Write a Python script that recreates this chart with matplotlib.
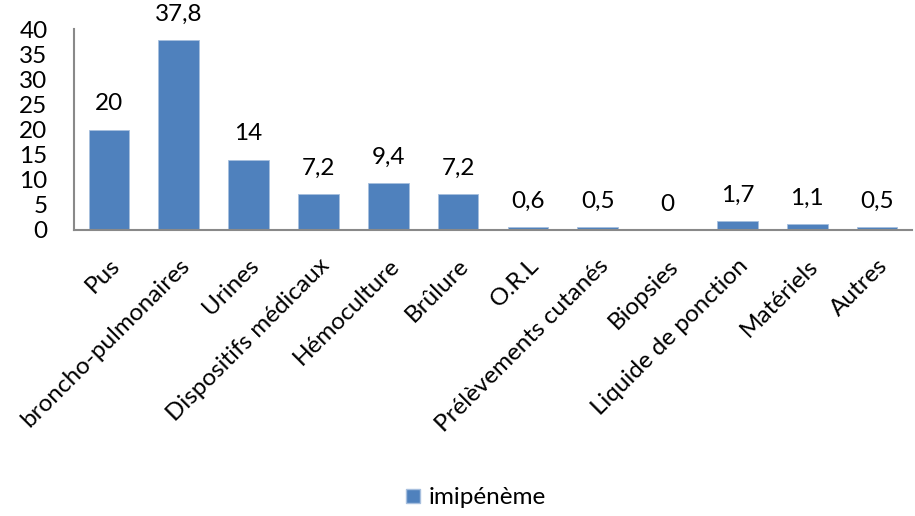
import matplotlib
matplotlib.use("Agg")
import matplotlib.pyplot as plt
from matplotlib.patches import Patch

categories = ["Pus", "broncho-pulmonaires", "Urines", "Dispositifs médicaux",
              "Hémoculture", "Brûlure", "O.R.L", "Prélèvements cutanés",
              "Biopsies", "Liquide de ponction", "Matériels", "Autres"]
values = [20, 37.8, 14, 7.2, 9.4, 7.2, 0.6, 0.5, 0, 1.7, 1.1, 0.5]
value_labels = ["20", "37,8", "14", "7,2", "9,4", "7,2", "0,6", "0,5", "0", "1,7", "1,1", "0,5"]
series_name = "imipénème"
y_ticks = [0, 5, 10, 15, 20, 25, 30, 35, 40]

plt.rcParams["font.family"] = ["Lato", "DejaVu Sans"]
bar_color = "#4F81BD"
fs = 17.5

fig = plt.figure(figsize=(9.15, 5.16), dpi=100)
ax = fig.add_axes([74 / 915, 1 - 230 / 516, (912 - 74) / 915, (230 - 29) / 516])

x = list(range(len(categories)))
ax.bar(x, values, width=0.58, color=bar_color, edgecolor="#A7BFDE", linewidth=0.6)

for xi, v, lab in zip(x, values, value_labels):
    ax.annotate(lab, (xi, v), xytext=(0, 11), textcoords="offset points",
                ha="center", va="bottom", fontsize=fs, color="black")

ax.set_xlim(-0.5, len(categories) - 0.5)
ax.set_ylim(0, 40)
ax.set_yticks(y_ticks)
ax.set_yticklabels([str(t) for t in y_ticks], fontsize=fs)
ax.set_xticks(x)
ax.set_xticklabels(categories, rotation=45, ha="right", rotation_mode="anchor",
                   fontsize=fs)
ax.tick_params(axis="both", length=0)
ax.tick_params(axis="x", pad=18)
ax.tick_params(axis="y", pad=19)

for side in ("top", "right"):
    ax.spines[side].set_visible(False)
for side in ("left", "bottom"):
    ax.spines[side].set_color("#898989")
    ax.spines[side].set_linewidth(1.5)

handle = Patch(facecolor=bar_color, edgecolor="#A7BFDE", label=series_name)
fig.legend(handles=[handle], loc="center", bbox_to_anchor=(476 / 915, 1 - 498 / 516),
           frameon=False, fontsize=fs, handlelength=0.55, handleheight=0.55,
           handletextpad=0.35)

fig.savefig("out.png", dpi=100)
